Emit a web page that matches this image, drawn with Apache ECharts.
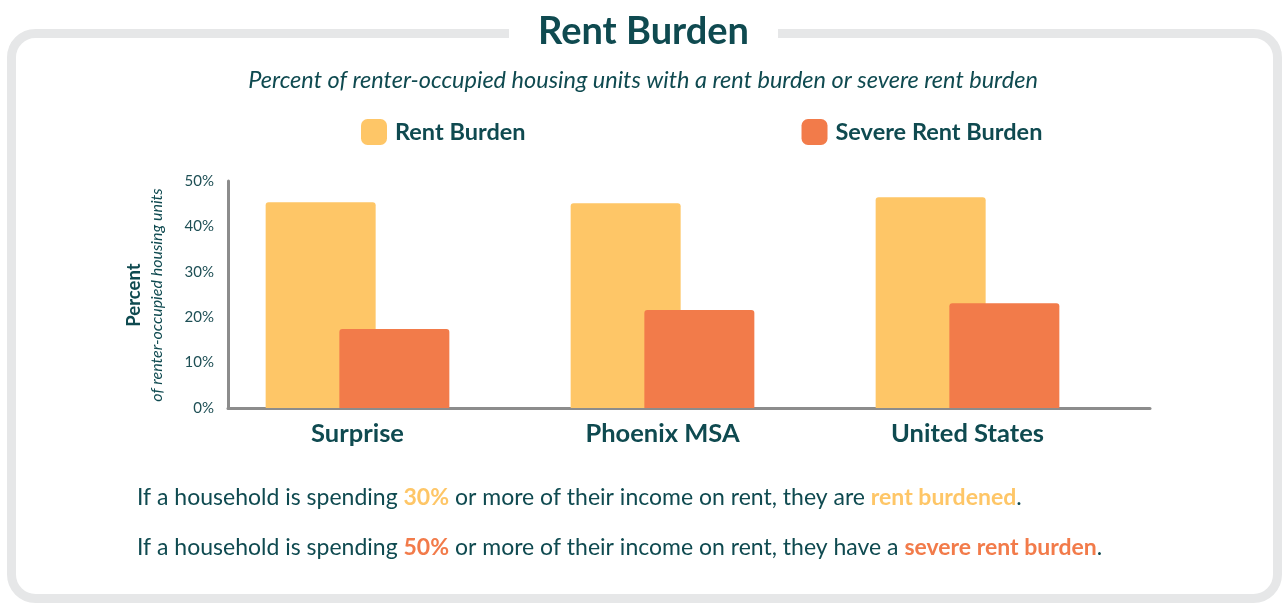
<!DOCTYPE html>
<html>
<head>
<meta charset="utf-8">
<script src="https://cdn.jsdelivr.net/npm/echarts@6/dist/echarts.min.js"></script>
<style>
  html, body { margin: 0; padding: 0; background: #fff; }
  #chart { width: 1287px; height: 603px; }
</style>
</head>
<body>
<div id="chart"></div>
<script>
// chart data
var categories = ['Surprise', 'Phoenix MSA', 'United States']
var rentBurden = [45.3, 45.1, 46.4]
var severeRentBurden = [17.4, 21.6, 23.1]
var yTicks = [0, 10, 20, 30, 40, 50]
var seriesNames = ['Rent Burden', 'Severe Rent Burden']

var teal = '#0f4a50'
var yellow = '#fec667'
var orange = '#f27b4a'
var font = 'Lato'

var chart = echarts.init(document.getElementById('chart'))

chart.setOption({
  animation: false,
  textStyle: { fontFamily: font },
  // grid 0 only draws the axis lines, grid 1 holds the bars
  grid: [
    { left: 228, right: 137, top: 181, bottom: 195 },
    { left: 205, right: 167, top: 181, bottom: 195 }
  ],
  legend: {
    data: seriesNames,
    left: 356,
    top: 114,
    itemWidth: 26,
    itemHeight: 26,
    itemGap: 276,
    icon: 'roundRect',
    textStyle: { fontFamily: font, fontWeight: 'bold', fontSize: 23.5, color: teal, padding: [0, 0, 0, 3] }
  },
  xAxis: [
    {
      gridIndex: 0, type: 'value', min: 0, max: 1,
      axisLine: { show: true, lineStyle: { color: '#8c8c8c', width: 3 } },
      axisTick: { show: false }, axisLabel: { show: false }, splitLine: { show: false }
    },
    {
      gridIndex: 1, type: 'category', data: categories,
      axisLine: { show: false }, axisTick: { show: false },
      axisLabel: { margin: 13, fontFamily: font, fontWeight: 'bold', fontSize: 25.5, color: teal }
    }
  ],
  yAxis: [
    {
      gridIndex: 0, type: 'value', min: yTicks[0], max: yTicks[yTicks.length - 1], interval: 10,
      axisLine: { show: true, lineStyle: { color: '#8c8c8c', width: 3 } },
      axisTick: { show: false }, splitLine: { show: false },
      axisLabel: { formatter: '{value}%', margin: 14, fontFamily: font, fontSize: 15, color: '#1e4f55' }
    },
    {
      gridIndex: 1, type: 'value', min: yTicks[0], max: yTicks[yTicks.length - 1], show: false
    }
  ],
  series: [
    {
      name: seriesNames[0], type: 'bar', xAxisIndex: 1, yAxisIndex: 1,
      data: rentBurden, barWidth: 110, barGap: '-33%',
      itemStyle: { color: yellow, borderRadius: [3, 3, 0, 0] }
    },
    {
      name: seriesNames[1], type: 'bar', xAxisIndex: 1, yAxisIndex: 1,
      data: severeRentBurden, barWidth: 110, barGap: '-33%',
      itemStyle: { color: orange, borderRadius: [3, 3, 0, 0] }
    }
  ],
  graphic: [
    {
      type: 'rect', z: -1, silent: true,
      shape: { x: 11.5, y: 33.5, width: 1266, height: 565, r: 24 },
      style: { fill: '#fff', stroke: '#e6e7e8', lineWidth: 9 }
    },
    {
      type: 'rect', z: 0, silent: true,
      shape: { x: 509, y: 20, width: 269, height: 30 },
      style: { fill: '#fff' }
    },
    {
      type: 'text', x: 643.5, y: 32, z: 1,
      style: {
        text: 'Rent Burden', fontFamily: font, fontWeight: 'bold', fontSize: 38,
        fill: teal, align: 'center', verticalAlign: 'middle'
      }
    },
    {
      type: 'text', x: 643, y: 80,
      style: {
        text: 'Percent of renter-occupied housing units with a rent burden or severe rent burden',
        fontFamily: font, fontStyle: 'italic', fontSize: 23.5, fill: teal,
        align: 'center', verticalAlign: 'middle'
      }
    },
    {
      type: 'text', x: 134, y: 295, rotation: Math.PI / 2,
      style: {
        text: 'Percent', fontFamily: font, fontWeight: 'bold', fontSize: 18.5, fill: teal,
        align: 'center', verticalAlign: 'middle'
      }
    },
    {
      type: 'text', x: 157, y: 295, rotation: Math.PI / 2,
      style: {
        text: 'of renter-occupied housing units', fontFamily: font, fontStyle: 'italic',
        fontSize: 16, fill: teal, align: 'center', verticalAlign: 'middle'
      }
    },
    {
      type: 'text', x: 137, y: 498,
      style: {
        text: 'If a household is spending {y|30%} or more of their income on rent, they are {y|rent burdened}.',
        fontFamily: font, fontSize: 23, fill: teal, verticalAlign: 'middle',
        rich: { y: { fontFamily: font, fontSize: 23, fontWeight: 'bold', fill: yellow } }
      }
    },
    {
      type: 'text', x: 137, y: 548,
      style: {
        text: 'If a household is spending {o|50%} or more of their income on rent, they have a {o|severe rent burden}.',
        fontFamily: font, fontSize: 23, fill: teal, verticalAlign: 'middle',
        rich: { o: { fontFamily: font, fontSize: 23, fontWeight: 'bold', fill: orange } }
      }
    }
  ]
})
</script>
</body>
</html>
